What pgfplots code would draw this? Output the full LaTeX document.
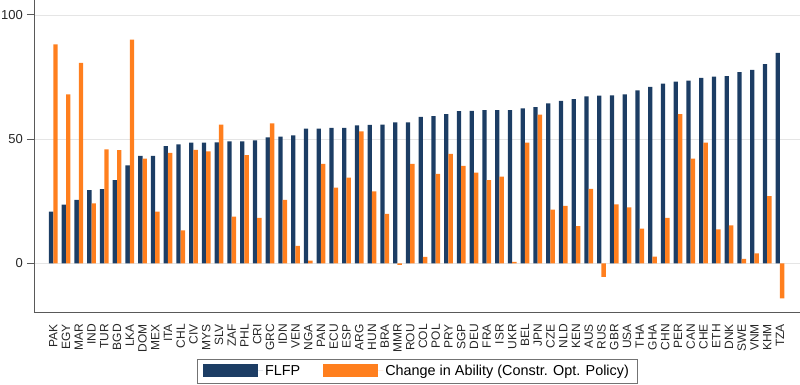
\documentclass[border=0pt]{standalone}
\usepackage{pgfplots}
\pgfplotsset{compat=1.18}
\usepackage{pgfplotstable}
\usepackage{fontspec}
\setmainfont{Liberation Sans}
\definecolor{navyb}{HTML}{1C3D64}
\definecolor{orng}{HTML}{FF7F1E}
\pgfplotstableread{
i flfp abil
0 20.8 88.1
1 23.6 68.0
2 25.5 80.7
3 29.5 24.1
4 29.9 45.9
5 33.5 45.6
6 39.4 90.0
7 43.2 42.1
8 43.2 20.8
9 47.2 44.5
10 47.9 13.3
11 48.6 45.7
12 48.6 45.1
13 48.7 55.8
14 49.1 18.8
15 49.1 43.6
16 49.5 18.3
17 50.7 56.3
18 51.0 25.5
19 51.5 7.0
20 54.2 1.1
21 54.2 40.0
22 54.5 30.5
23 54.5 34.5
24 55.5 53.1
25 55.7 29.0
26 55.8 19.9
27 56.7 -0.6
28 56.7 40.0
29 58.9 2.6
30 59.3 36.0
31 60.1 44.1
32 61.3 39.2
33 61.4 36.5
34 61.7 33.5
35 61.7 34.9
36 61.7 0.6
37 62.4 48.6
38 62.9 59.9
39 64.4 21.6
40 65.4 23.1
41 66.1 15.0
42 67.2 30.0
43 67.5 -5.5
44 67.6 23.7
45 68.0 22.5
46 69.6 14.0
47 71.0 2.7
48 72.3 18.3
49 73.1 60.1
50 73.5 42.1
51 74.6 48.6
52 75.2 13.7
53 75.4 15.3
54 77.0 1.8
55 77.9 4.0
56 80.2 27.0
57 84.7 -14.1
}\data
\begin{document}
\begin{tikzpicture}
\begin{axis}[
  scale only axis, width=766pt, height=312pt,
  xmin=-1.51, xmax=58.57, ymin=-19.6, ymax=106,
  ybar=0pt, bar width=0.34,
  axis lines=left,
  axis line style={draw=black!65, line width=0.8pt, -},
  ytick={0,50,100},
  ymajorgrids, grid style={black!10, line width=0.6pt},
  xtick=data,
  xticklabels={PAK,EGY,MAR,IND,TUR,BGD,LKA,DOM,MEX,ITA,CHL,CIV,MYS,SLV,ZAF,PHL,CRI,GRC,IDN,VEN,NGA,PAN,ECU,ESP,ARG,HUN,BRA,MMR,ROU,COL,POL,PRY,SGP,DEU,FRA,ISR,UKR,BEL,JPN,CZE,NLD,KEN,AUS,RUS,GBR,USA,THA,GHA,CHN,PER,CAN,CHE,ETH,DNK,SWE,VNM,KHM,TZA},
  xticklabel style={rotate=90, anchor=east, font=\fontsize{12}{12}\selectfont, inner xsep=5pt, inner ysep=0pt, text=black!85},
  yticklabel style={font=\fontsize{13}{13}\selectfont, inner xsep=4pt, text=black!85},
  /pgf/number format/assume math mode=true,
  major x tick style={draw=none},
  major y tick style={draw=black!65, line width=0.8pt},
  tick align=outside, major tick length=7pt,
  legend style={at={(0.5,-0.189)}, anchor=center, draw=black!55, line width=0.6pt,
    font=\fontsize{14.4}{14}\selectfont, inner xsep=6pt, inner ysep=4pt,
    /tikz/every even column/.append style={column sep=21pt}},
  legend columns=2,
  legend cell align=left,
]
\addplot[fill=navyb, draw=none, legend image code/.code={\fill[navyb] (0pt,-6.5pt) rectangle (55pt,6.5pt); \path (0pt,0pt) -- (60pt,0pt);}] table[x=i, y=flfp] {\data};
\addplot[fill=orng, draw=none, legend image code/.code={\fill[orng] (0pt,-6.5pt) rectangle (55pt,6.5pt); \path (0pt,0pt) -- (60pt,0pt);}] table[x=i, y=abil] {\data};
\legend{FLFP, Change in Ability (Constr. Opt. Policy)\hspace{9pt}}
\coordinate (bl) at (rel axis cs:0,0);
\coordinate (tr) at (rel axis cs:1,1);
\end{axis}
\pgfresetboundingbox
\path ([shift={(-34pt,-73pt)}]bl) rectangle (tr);
\end{tikzpicture}
\end{document}
